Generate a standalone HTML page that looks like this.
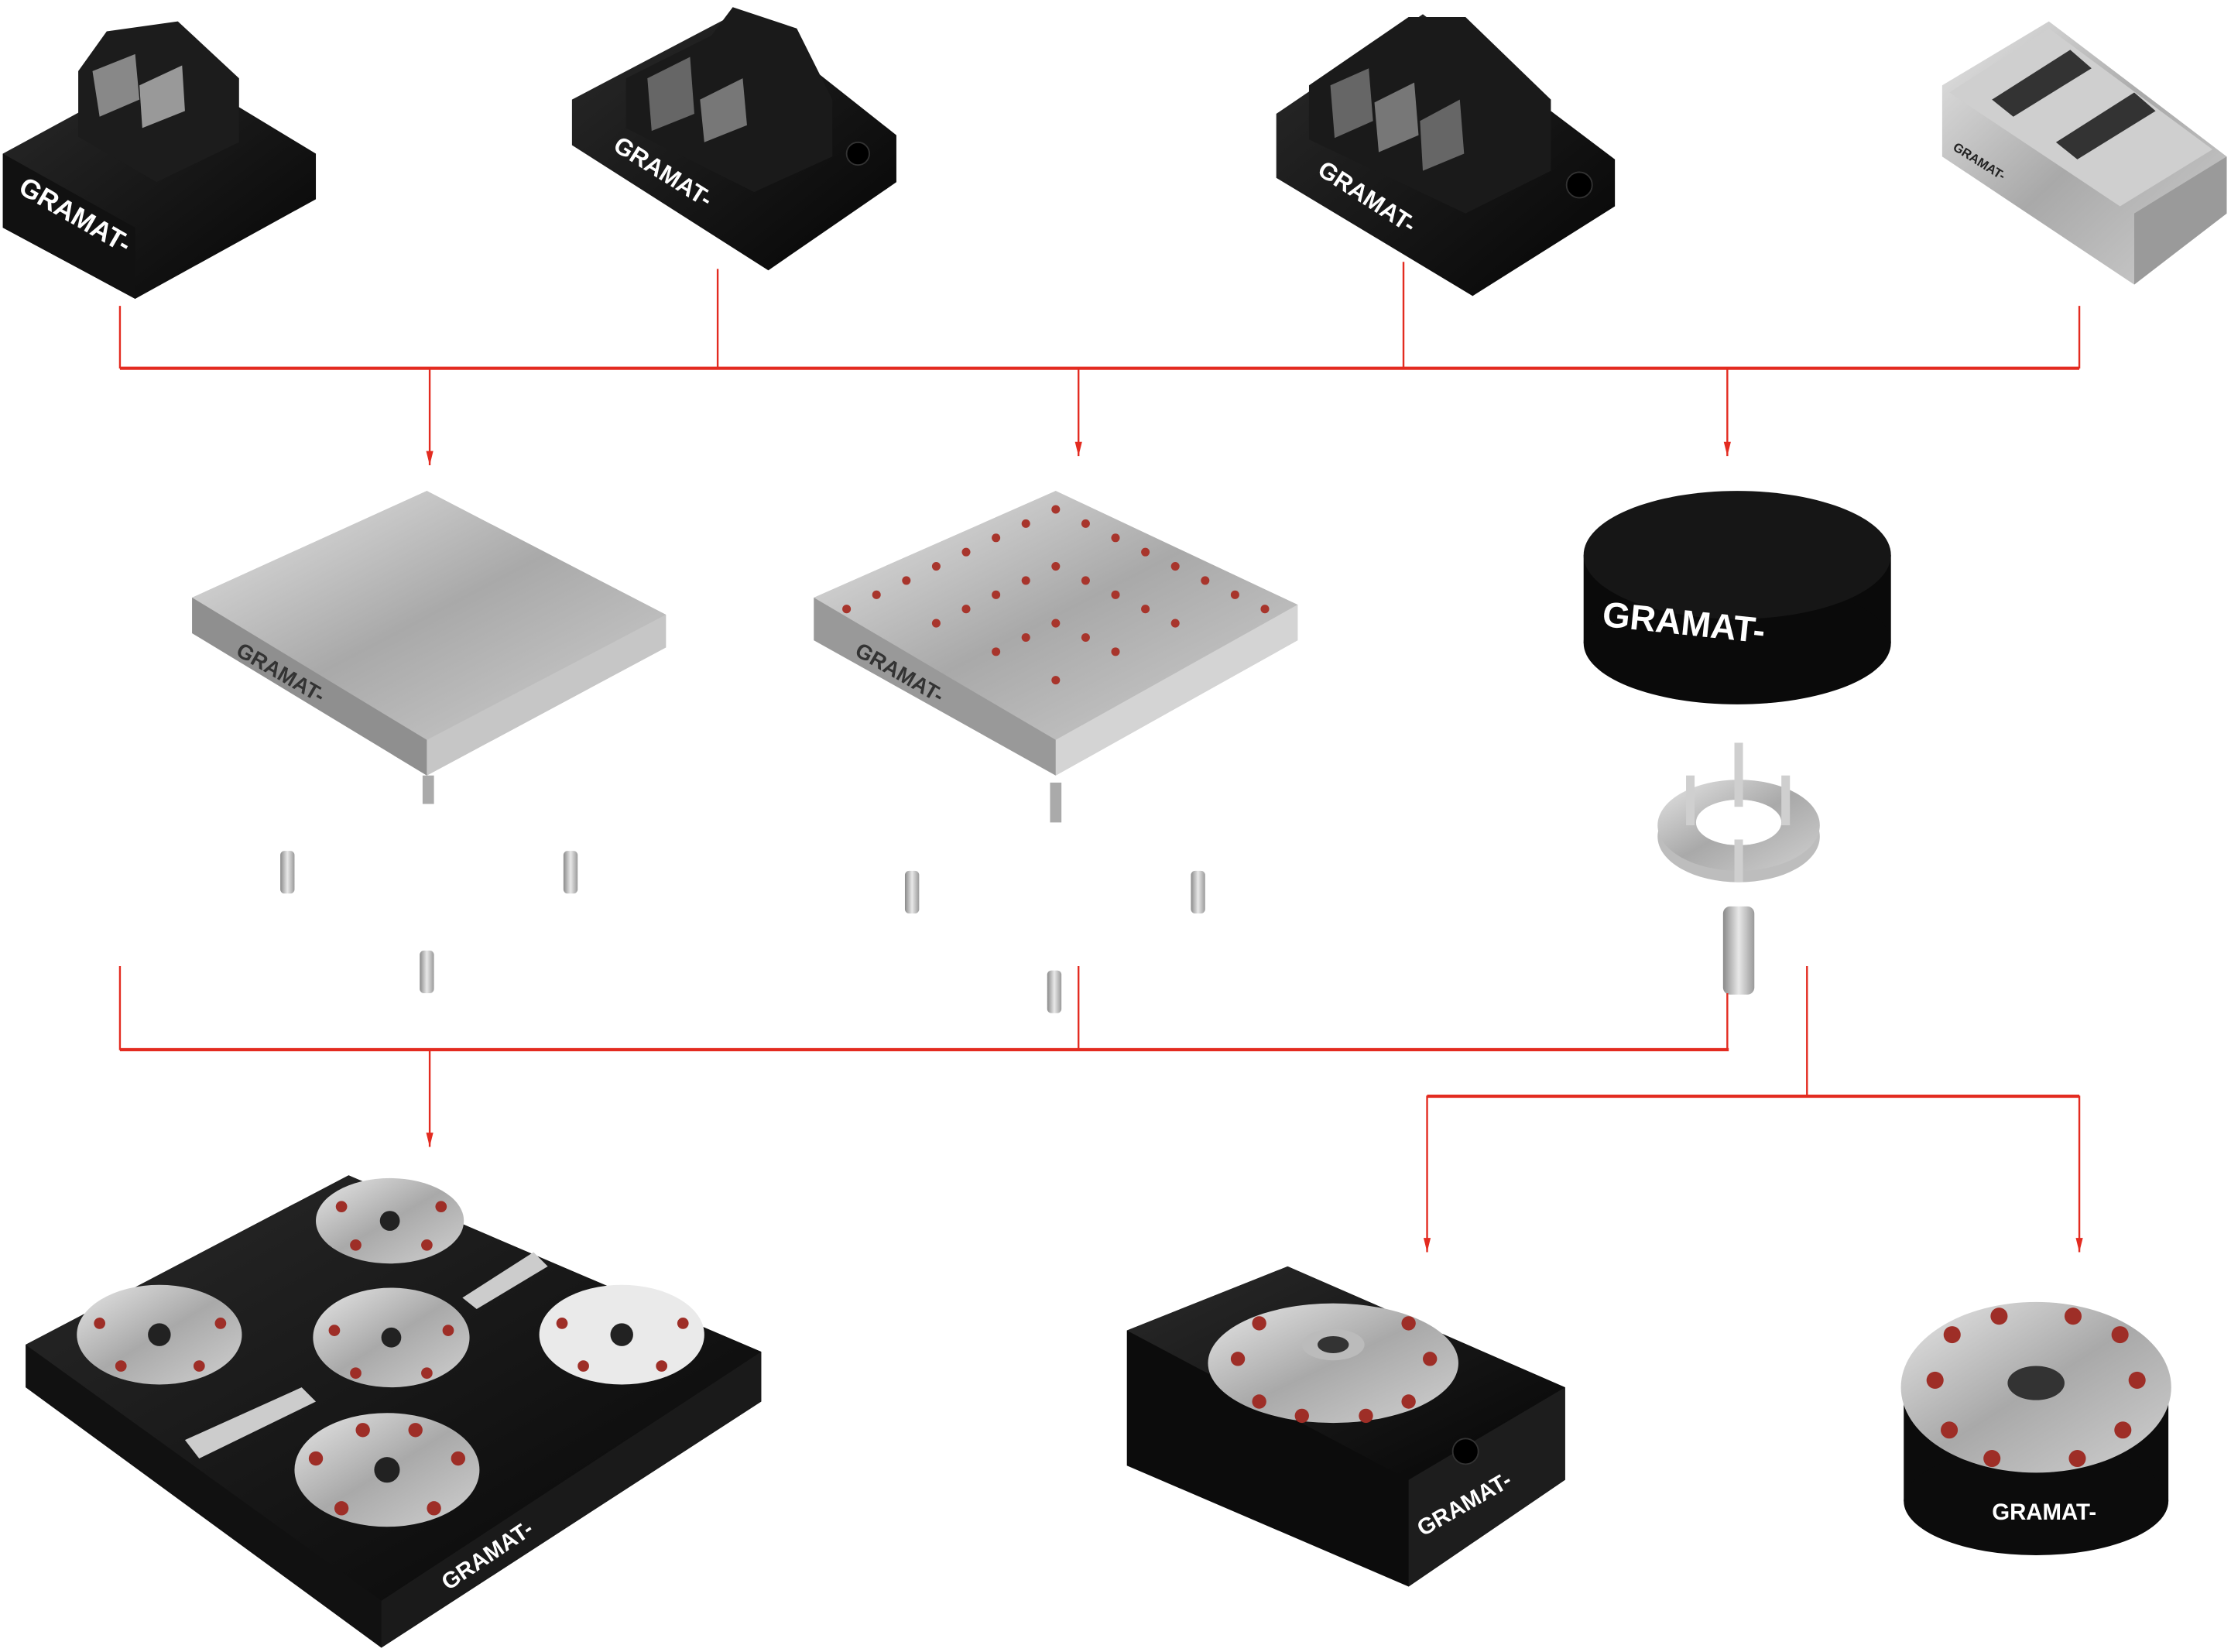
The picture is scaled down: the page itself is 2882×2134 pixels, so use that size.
<!DOCTYPE html>
<html><head><meta charset="utf-8"><style>
html,body{margin:0;padding:0;background:#fff;}
svg{display:block;}
text{font-family:"Liberation Sans",sans-serif;font-weight:bold;}
</style></head><body>
<svg width="2882" height="2134" viewBox="0 0 1568 1161" preserveAspectRatio="none" xmlns="http://www.w3.org/2000/svg">
<defs>
<linearGradient id="sil" x1="0" y1="0" x2="1" y2="1"><stop offset="0" stop-color="#e6e6e6"/><stop offset="0.5" stop-color="#a9a9a9"/><stop offset="1" stop-color="#d0d0d0"/></linearGradient>
<linearGradient id="sil2" x1="0" y1="0" x2="1" y2="0"><stop offset="0" stop-color="#8a8a8a"/><stop offset="0.5" stop-color="#e8e8e8"/><stop offset="1" stop-color="#9a9a9a"/></linearGradient>
<linearGradient id="blk" x1="0" y1="0" x2="1" y2="1"><stop offset="0" stop-color="#2a2a2a"/><stop offset="1" stop-color="#050505"/></linearGradient>
<marker id="ah" viewBox="0 0 20 10" refX="20" refY="5" markerWidth="10" markerHeight="6" orient="auto" markerUnits="userSpaceOnUse"><path d="M0,0 L20,5 L0,10 Z" fill="#e32b20"/></marker>
</defs>

<!-- top row vises -->
<g>
<polygon points="2,108 118,45 222,108 222,140 95,210 2,160" fill="url(#blk)"/>
<polygon points="2,108 95,160 95,210 2,160" fill="#111"/>
<polygon points="55,50 75,22 125,15 168,55 168,100 110,128 55,96" fill="#1c1c1c"/>
<polygon points="65,50 95,38 98,70 70,82" fill="#888"/>
<polygon points="98,60 128,46 130,78 100,90" fill="#999"/>
<text x="0" y="0" fill="#fff" font-size="19" transform="translate(12,135) rotate(30)">GRAMAT-</text>

<polygon points="402,70 520,8 630,95 630,128 540,190 402,102" fill="url(#blk)"/>
<polygon points="440,55 500,25 515,5 560,20 585,70 585,110 530,135 440,90" fill="#1a1a1a"/>
<polygon points="455,55 485,40 488,80 458,92" fill="#666"/>
<polygon points="492,70 522,55 525,88 495,100" fill="#777"/>
<text fill="#fff" font-size="17" transform="translate(430,105) rotate(32)">GRAMAT-</text>
<circle cx="603" cy="108" r="8" fill="#000" stroke="#333"/>

<polygon points="897,80 1000,10 1135,112 1135,145 1035,208 897,125" fill="url(#blk)"/>
<polygon points="920,60 990,12 1030,12 1090,70 1090,120 1030,150 920,98" fill="#1a1a1a"/>
<polygon points="935,60 962,48 965,85 938,97" fill="#666"/>
<polygon points="966,72 994,58 997,95 969,107" fill="#777"/>
<polygon points="998,85 1026,70 1029,108 1000,120" fill="#666"/>
<text fill="#fff" font-size="17" transform="translate(925,122) rotate(33)">GRAMAT-</text>
<circle cx="1110" cy="130" r="9" fill="#000" stroke="#333"/>

<polygon points="1365,60 1440,15 1565,110 1565,150 1500,200 1365,110" fill="url(#sil)"/>
<polygon points="1370,65 1440,20 1555,105 1490,145" fill="#cfcfcf"/>
<polygon points="1400,70 1455,35 1470,48 1415,82" fill="#333"/>
<polygon points="1445,100 1500,65 1515,78 1460,112" fill="#333"/>
<polygon points="1500,150 1565,110 1565,150 1500,200" fill="#9a9a9a"/>
<text fill="#222" font-size="9" transform="translate(1372,105) rotate(32)">GRAMAT-</text>
</g>

<!-- middle row plates -->
<polygon points="135,420 300,345 468,432 468,455 300,545 135,445" fill="#b8b8b8"/>
<polygon points="135,420 300,345 468,432 300,520" fill="url(#sil)"/>
<polygon points="135,420 300,520 300,545 135,445" fill="#8f8f8f"/>
<polygon points="300,520 468,432 468,455 300,545" fill="#c6c6c6"/>
<text fill="#333" font-size="15" transform="translate(165,460) rotate(30)">GRAMAT-</text>
<rect x="297" y="545" width="8" height="20" fill="#aaa"/>

<polygon points="572,420 742,345 912,425 912,450 742,545 572,450" fill="#c0c0c0"/>
<polygon points="572,420 742,345 912,425 742,520" fill="url(#sil)"/>
<polygon points="572,420 742,520 742,545 572,450" fill="#999"/>
<polygon points="742,520 912,425 912,450 742,545" fill="#d4d4d4"/>
<g fill="#a8352c">
<circle cx="742" cy="358" r="3"/><circle cx="700" cy="378" r="3"/><circle cx="784" cy="378" r="3"/><circle cx="658" cy="398" r="3"/><circle cx="742" cy="398" r="3"/><circle cx="826" cy="398" r="3"/><circle cx="616" cy="418" r="3"/><circle cx="700" cy="418" r="3"/><circle cx="784" cy="418" r="3"/><circle cx="868" cy="418" r="3"/><circle cx="658" cy="438" r="3"/><circle cx="742" cy="438" r="3"/><circle cx="826" cy="438" r="3"/><circle cx="700" cy="458" r="3"/><circle cx="784" cy="458" r="3"/><circle cx="742" cy="478" r="3"/>
<circle cx="721" cy="368" r="3"/><circle cx="763" cy="368" r="3"/><circle cx="679" cy="388" r="3"/><circle cx="805" cy="388" r="3"/><circle cx="637" cy="408" r="3"/><circle cx="847" cy="408" r="3"/><circle cx="721" cy="408" r="3"/><circle cx="763" cy="408" r="3"/><circle cx="679" cy="428" r="3"/><circle cx="805" cy="428" r="3"/><circle cx="721" cy="448" r="3"/><circle cx="763" cy="448" r="3"/><circle cx="889" cy="428" r="3"/><circle cx="595" cy="428" r="3"/>
</g>
<text fill="#333" font-size="15" transform="translate(600,460) rotate(30)">GRAMAT-</text>
<rect x="738" y="550" width="8" height="28" fill="#aaa"/>

<!-- black round -->
<rect x="1113" y="390" width="216" height="62" fill="#0a0a0a"/>
<ellipse cx="1221" cy="452" rx="108" ry="43" fill="#0a0a0a"/>
<ellipse cx="1221" cy="390" rx="108" ry="45" fill="#161616"/>
<text x="1125" y="450" fill="#fff" font-size="25" transform="rotate(6 1221 450)">GRAMAT-</text>
<!-- ring -->
<ellipse cx="1222" cy="588" rx="57" ry="32" fill="#bdbdbd"/>
<ellipse cx="1222" cy="580" rx="57" ry="32" fill="url(#sil)"/>
<ellipse cx="1222" cy="578" rx="30" ry="16" fill="#fff"/>
<g fill="#cfcfcf"><rect x="1219" y="522" width="6" height="45"/><rect x="1185" y="545" width="6" height="35"/><rect x="1252" y="545" width="6" height="35"/><rect x="1219" y="590" width="6" height="30"/></g>
<!-- pins -->
<g fill="url(#sil2)">
<rect x="197" y="598" width="10" height="30" rx="3"/><rect x="396" y="598" width="10" height="30" rx="3"/><rect x="295" y="668" width="10" height="30" rx="3"/>
<rect x="636" y="612" width="10" height="30" rx="3"/><rect x="837" y="612" width="10" height="30" rx="3"/><rect x="736" y="682" width="10" height="30" rx="3"/>
<rect x="1211" y="637" width="22" height="62" rx="5"/>
</g>

<!-- bottom left plate -->
<polygon points="18,945 245,826 535,950 535,985 268,1158 18,975" fill="#111"/>
<polygon points="18,945 245,826 535,950 268,1125" fill="url(#blk)"/>
<polygon points="268,1125 535,950 535,985 268,1158" fill="#1a1a1a"/>
<polygon points="325,912 375,880 385,890 335,920" fill="#ccc"/>
<polygon points="130,1012 212,975 222,985 140,1025" fill="#ccc"/>
<g>
<ellipse cx="274" cy="858" rx="52" ry="30" fill="url(#sil)"/>
<ellipse cx="112" cy="938" rx="58" ry="35" fill="url(#sil)"/>
<ellipse cx="275" cy="940" rx="55" ry="35" fill="url(#sil)"/>
<ellipse cx="437" cy="938" rx="58" ry="35" fill="#eaeaea"/>
<ellipse cx="272" cy="1033" rx="65" ry="40" fill="url(#sil)"/>
</g>
<g fill="#9e2e27">
<circle cx="240" cy="848" r="4"/><circle cx="310" cy="848" r="4"/><circle cx="250" cy="875" r="4"/><circle cx="300" cy="875" r="4"/>
<circle cx="70" cy="930" r="4"/><circle cx="155" cy="930" r="4"/><circle cx="85" cy="960" r="4"/><circle cx="140" cy="960" r="4"/>
<circle cx="235" cy="935" r="4"/><circle cx="315" cy="935" r="4"/><circle cx="250" cy="965" r="4"/><circle cx="300" cy="965" r="4"/>
<circle cx="395" cy="930" r="4"/><circle cx="480" cy="930" r="4"/><circle cx="410" cy="960" r="4"/><circle cx="465" cy="960" r="4"/>
<circle cx="222" cy="1025" r="5"/><circle cx="322" cy="1025" r="5"/><circle cx="240" cy="1060" r="5"/><circle cx="305" cy="1060" r="5"/><circle cx="255" cy="1005" r="5"/><circle cx="292" cy="1005" r="5"/>
</g>
<g fill="#222"><circle cx="274" cy="858" r="7"/><circle cx="112" cy="938" r="8"/><circle cx="275" cy="940" r="7"/><circle cx="437" cy="938" r="8"/><circle cx="272" cy="1033" r="9"/></g>
<text fill="#fff" font-size="16" transform="translate(315,1118) rotate(-34)">GRAMAT-</text>

<!-- bottom middle block -->
<polygon points="792,935 905,890 1100,975 1100,1040 990,1115 792,1030" fill="#0c0c0c"/>
<polygon points="792,935 905,890 1100,975 990,1040" fill="url(#blk)"/>
<polygon points="990,1040 1100,975 1100,1040 990,1115" fill="#1d1d1d"/>
<ellipse cx="937" cy="958" rx="88" ry="42" fill="url(#sil)"/>
<ellipse cx="937" cy="945" rx="22" ry="11" fill="#bbb"/><ellipse cx="937" cy="945" rx="11" ry="6" fill="#333"/>
<g fill="#9e2e27"><circle cx="870" cy="955" r="5"/><circle cx="1005" cy="955" r="5"/><circle cx="885" cy="985" r="5"/><circle cx="990" cy="985" r="5"/><circle cx="915" cy="995" r="5"/><circle cx="960" cy="995" r="5"/><circle cx="885" cy="930" r="5"/><circle cx="990" cy="930" r="5"/></g>
<circle cx="1030" cy="1020" r="9" fill="#000" stroke="#333"/>
<text fill="#fff" font-size="16" transform="translate(1000,1080) rotate(-30)">GRAMAT-</text>

<!-- bottom right round -->
<rect x="1338" y="975" width="186" height="80" fill="#0c0c0c"/>
<ellipse cx="1431" cy="1055" rx="93" ry="38" fill="#0c0c0c"/>
<ellipse cx="1431" cy="975" rx="95" ry="60" fill="url(#sil)"/>
<ellipse cx="1431" cy="972" rx="20" ry="12" fill="#333"/>
<g fill="#9e2e27"><circle cx="1360" cy="970" r="6"/><circle cx="1502" cy="970" r="6"/><circle cx="1370" cy="1005" r="6"/><circle cx="1492" cy="1005" r="6"/><circle cx="1400" cy="1025" r="6"/><circle cx="1460" cy="1025" r="6"/><circle cx="1372" cy="938" r="6"/><circle cx="1490" cy="938" r="6"/><circle cx="1405" cy="925" r="6"/><circle cx="1457" cy="925" r="6"/></g>
<text fill="#fff" font-size="16" x="1400" y="1068">GRAMAT-</text>

<!-- connectors -->
<g stroke="#e32b20" fill="none">
<line x1="84.3" y1="258.8" x2="1461.4" y2="258.8" stroke-width="2.2"/>
<line x1="84.3" y1="215" x2="84.3" y2="259" stroke-width="1.3"/>
<line x1="504.4" y1="189" x2="504.4" y2="259" stroke-width="1.3"/>
<line x1="986.4" y1="184" x2="986.4" y2="259" stroke-width="1.3"/>
<line x1="1461.4" y1="215" x2="1461.4" y2="259" stroke-width="1.3"/>
<line x1="302" y1="259" x2="302" y2="327" stroke-width="1.3" marker-end="url(#ah)"/>
<line x1="758" y1="259" x2="758" y2="320.5" stroke-width="1.3" marker-end="url(#ah)"/>
<line x1="1214" y1="259" x2="1214" y2="320.5" stroke-width="1.3" marker-end="url(#ah)"/>

<line x1="84.3" y1="737.7" x2="1215" y2="737.7" stroke-width="2.2"/>
<line x1="84.3" y1="679" x2="84.3" y2="738" stroke-width="1.3"/>
<line x1="758" y1="679" x2="758" y2="738" stroke-width="1.3"/>
<line x1="1214" y1="698" x2="1214" y2="738" stroke-width="1.3"/>
<line x1="302" y1="738" x2="302" y2="806" stroke-width="1.3" marker-end="url(#ah)"/>

<line x1="1270" y1="679" x2="1270" y2="770" stroke-width="1.3"/>
<line x1="1003" y1="770.4" x2="1461.4" y2="770.4" stroke-width="2.2"/>
<line x1="1003" y1="770" x2="1003" y2="880" stroke-width="1.3" marker-end="url(#ah)"/>
<line x1="1461.4" y1="770" x2="1461.4" y2="880" stroke-width="1.3" marker-end="url(#ah)"/>
</g>
</svg>
</body></html>
